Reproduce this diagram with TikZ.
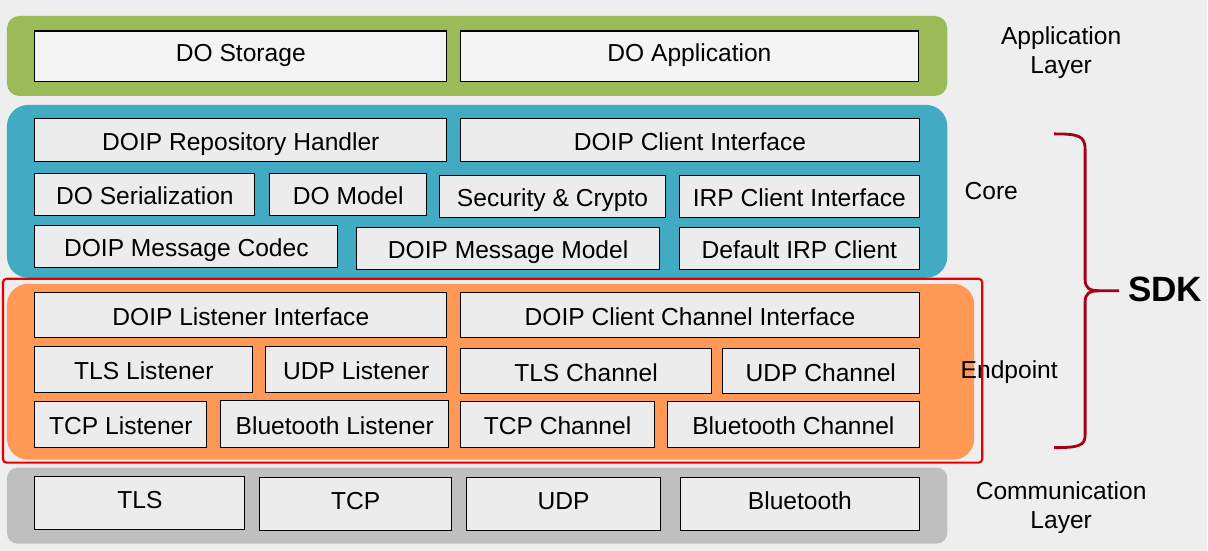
\documentclass[tikz,border=0pt]{standalone}
\usepackage{fontspec}
\setmainfont{Liberation Sans}
\usetikzlibrary{fit}
\definecolor{bggray}{RGB}{238,238,238}
\definecolor{blkgray}{RGB}{236,236,236}
\definecolor{appgreen}{RGB}{155,187,89}
\definecolor{coreblue}{RGB}{66,171,196}
\definecolor{endorange}{RGB}{255,153,85}
\definecolor{commgray}{RGB}{191,191,191}
\definecolor{sdkred}{RGB}{165,0,24}

\begin{document}
\begin{tikzpicture}[x=0.02cm, y=-0.02cm,
  layer/.style={rectangle, rounded corners=#1, inner sep=0pt},
  blk/.style={rectangle, draw=black, line width=0.6pt, fill=blkgray, inner sep=0pt, label={center:#1}},
  every label/.style={inner sep=0pt, text height=0.72em, text depth=0.1em, font=\fontsize{14}{16.5}\selectfont},
  side/.style={align=center, font=\fontsize{14}{16.5}\selectfont}]
\fill[bggray] (0,0) rectangle (1208,551);

% layers
\node[layer=7pt, fill=appgreen, fit={(7,16) (948,96)}] (app) {};
\node[layer=12pt, fill=coreblue, fit={(7,105) (948,278)}] (core) {};
\node[layer=12pt, fill=endorange, fit={(7,284) (975,460)}] (endp) {};
\node[layer=6pt, fill=commgray, fit={(7,468) (948,544)}] (comm) {};

% application layer
\node[blk=DO Storage, fill=blkgray!60!white, fit={(35,31) (447,82)}] (storage) {};
\node[blk=DO Application, fill=blkgray!60!white, fit={(461,31) (919,82)}] (doapp) {};

\begin{scope}[every label/.append style={yshift=-2.6pt}]
% core
\node[blk=DOIP Repository Handler, fit={(35,119) (447,162)}] (repohandler) {};
\node[blk=DOIP Client Interface, fit={(461,119) (920,162)}] (clientif) {};
\node[blk=DO Serialization, fit={(35,174) (255,216)}] (serial) {};
\node[blk=DO Model, fit={(270,174) (427,216)}] (model) {};
\node[blk=Security \& Crypto, fit={(440,176) (666,218)}] (crypto) {};
\node[blk=IRP Client Interface, fit={(680,176) (920,218)}] (irpif) {};
\node[blk=DOIP Message Codec, fit={(35,226) (338,268)}] (codec) {};
\node[blk=DOIP Message Model, fit={(357,228) (660,270)}] (msgmodel) {};
\node[blk=Default IRP Client, fit={(680,228) (920,270)}] (irpclient) {};

% endpoint
\node[blk=DOIP Listener Interface, fit={(35,293) (447,338)}] (listenif) {};
\node[blk=DOIP Client Channel Interface, fit={(461,293) (920,338)}] (channelif) {};
\node[blk=TLS Listener, fit={(35,347) (253,393)}] (tlslisten) {};
\node[blk=UDP Listener, fit={(266,347) (447,393)}] (udplisten) {};
\node[blk=TLS Channel, fit={(461,349) (712,394)}] (tlschan) {};
\node[blk=UDP Channel, fit={(723,349) (920,394)}] (udpchan) {};
\node[blk=TCP Listener, fit={(35,402) (207,448)}] (tcplisten) {};
\node[blk=Bluetooth Listener, fit={(221,401) (449,448)}] (btlisten) {};
\node[blk=TCP Channel, fit={(461,402) (655,448)}] (tcpchan) {};
\node[blk=Bluetooth Channel, fit={(668,402) (920,448)}] (btchan) {};
\end{scope}

% communication layer
\node[blk=TLS, fit={(35,477) (245,530)}] (tls) {};
\node[blk=TCP, fit={(260,478) (452,531)}] (tcp) {};
\node[blk=UDP, fit={(467,478) (661,531)}] (udp) {};
\node[blk=Bluetooth, fit={(681,478) (920,531)}] (bt) {};

% side labels
\node[side] (applabel) at (1062,53) {Application\\Layer};
\node[side] (corelabel) at (992,191) {Core};
\node[side] (endlabel) at (1010,372) {Endpoint};
\node[side] (commlabel) at (1062,508) {Communication\\Layer};

% sdk box and brace
\node[rectangle, draw=red!90!black, line width=1.2pt, rounded corners=2pt, inner sep=0pt, fit={(3,279) (983,463)}] (sdkbox) {};
\draw[sdkred, line width=1.6pt] (1055,134) .. controls (1080,134) and (1086,136) .. (1086,150) -- (1086,280)
  .. controls (1086,288) and (1090,291) .. (1100,291) -- (1120,291);
\draw[sdkred, line width=1.6pt] (1100,291) .. controls (1090,291) and (1086,294) .. (1086,302) -- (1086,435)
  .. controls (1086,446) and (1080,448) .. (1055,448);
\node[font=\bfseries\fontsize{20}{24}\selectfont] (sdk) at (1166,290) {SDK};
\end{tikzpicture}
\end{document}
